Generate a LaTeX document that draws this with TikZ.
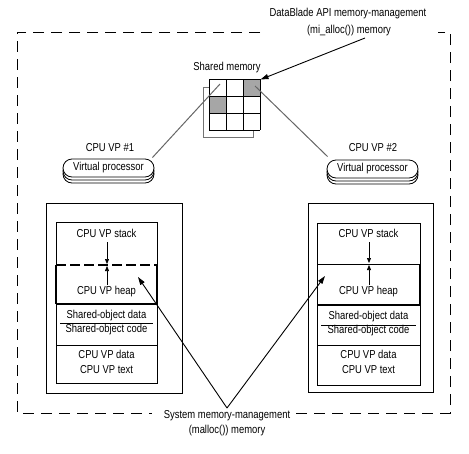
\documentclass[tikz,border=0pt]{standalone}
\usepackage{fontspec}
\setmainfont{Liberation Sans}[FakeStretch=0.82]
\usetikzlibrary{arrows.meta}
\begin{document}
\begin{tikzpicture}[x=1pt,y=-1pt,
  every node/.style={inner sep=0pt, font=\fontsize{11.5}{13}\selectfont},
  thin line/.style={line width=0.8pt},
  outer dash/.style={line width=0.9pt, dash pattern=on 11pt off 7pt},
  heap line/.style={line width=1.8pt},
  pill/.style={draw, line width=0.8pt, fill=white, rounded corners=9pt, minimum width=91pt, minimum height=18pt},
  arr/.style={line width=0.9pt, -{Triangle[length=8pt,width=5pt]}},
  small arr/.style={line width=0.7pt, -{Triangle[length=5pt,width=4pt]}},
  feed/.style={line width=1pt, draw=black!60}]
\useasboundingbox (0,0) rectangle (469,453);

% outer dashed frame
\draw[outer dash] (260,32) -- (17,32) -- (17,413) -- (152,413);
\draw[outer dash] (296,413) -- (450,413) -- (450,32) -- (438,32);

% labels
\node (dbl1) at (348,14) {DataBlade API memory-management};
\node (dbl2) at (349,31) {(mi\_alloc()) memory};
\node (shm) at (227,68) {Shared memory};
\node (sys1) at (227,416) {System memory-management};
\node (sys2) at (227,431) {(malloc()) memory};

% shared memory grid
\draw[draw=black!55, line width=0.8pt] (203,87) rectangle (253,137);
\fill[white] (209,79) rectangle (260,130);
\fill[black!35] (243,79) rectangle (260,96);
\fill[black!35] (209,96) rectangle (226,113);
\foreach \i in {0,1,2,3} {
  \draw[thin line] (209+17*\i,79) -- (209+17*\i,130);
  \draw[thin line] (209,79+17*\i) -- (260,79+17*\i);
}
\coordinate (gtr) at (260.5,79.5);
\coordinate (gl) at (220,84);
\coordinate (gr) at (255,86);
\coordinate (dbltail) at (365,38);

% virtual processors
\node (vp1title) at (110,148) {CPU VP \#1};
\node (vp2title) at (373,148) {CPU VP \#2};
\node[pill] (vp1c) at (108.5,174) {};
\node[pill] (vp1b) at (108.5,171) {};
\node[pill] (vp1) at (108.5,168) {Virtual processor};
\node[pill] (vp2c) at (372.5,175) {};
\node[pill] (vp2b) at (372.5,172) {};
\node[pill] (vp2) at (372.5,169) {Virtual processor};

\draw[feed] (gl) -- ([xshift=-2pt,yshift=1pt]vp1.north east);
\draw[feed] (gr) -- ([xshift=1pt,yshift=3pt]vp2.north west);
\draw[arr] (dbltail) -- (gtr);

% left process box
\draw[thin line] (46,203) rectangle (182,393);
\draw[thin line] (56,222) rectangle (157,383);
\draw[heap line] (56,304) -- (157,304) -- (157,265);
\draw[heap line] (56,265) -- (56,304);
\draw[heap line, dash pattern=on 10pt off 4pt] (56,265) -- (157,265);
\draw[thin line] (56,345) -- (157,345);
\draw[thin line] (60,323) -- (153,323);
\node (ls) at (106.5,233) {CPU VP stack};
\node (lh) at (106.5,292) {CPU VP heap};
\node (lsd) at (106.5,316) {Shared-object data};
\node (lsc) at (106.5,330) {Shared-object code};
\node (ld) at (106.5,354) {CPU VP data};
\node (lt) at (106.5,370) {CPU VP text};
\coordinate (lsa) at (107,242);
\coordinate (lsb) at (107,264);
\coordinate (lha) at (107,285);
\coordinate (lhb) at (107,266);
\draw[small arr] (lsa) -- (lsb);
\draw[small arr] (lha) -- (lhb);

% right process box
\draw[thin line] (308,203) rectangle (433,392);
\draw[thin line] (317,223) rectangle (420,385);
\draw[thin line] (317,264) -- (420,264);
\draw[heap line] (317,305) -- (420,305) -- (420,264);
\draw[thin line] (317,345) -- (420,345);
\draw[thin line] (321,325) -- (416,325);
\node (rs) at (368.5,233) {CPU VP stack};
\node (rh) at (368.5,292) {CPU VP heap};
\node (rsd) at (368.5,317) {Shared-object data};
\node (rsc) at (368.5,331) {Shared-object code};
\node (rd) at (368.5,354) {CPU VP data};
\node (rt) at (368.5,370) {CPU VP text};
\coordinate (rsa) at (369,242);
\coordinate (rsb) at (369,263);
\coordinate (rha) at (369,285);
\coordinate (rhb) at (369,265);
\draw[small arr] (rsa) -- (rsb);
\draw[small arr] (rha) -- (rhb);

% system memory arrows
\coordinate (sysapex) at (227,408);
\coordinate (lheap) at (138,277);
\coordinate (rheap) at (325,276);
\draw[arr] (sysapex) -- (lheap);
\draw[arr] (sysapex) -- (rheap);
\end{tikzpicture}
\end{document}
